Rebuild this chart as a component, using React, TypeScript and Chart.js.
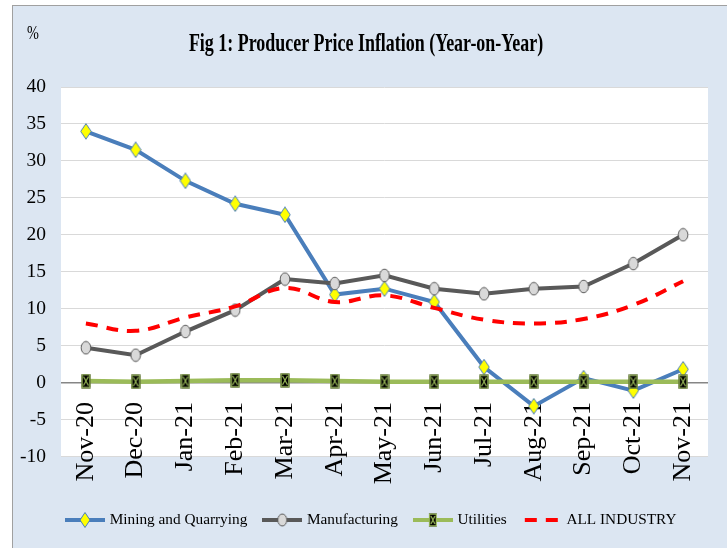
import React, { useEffect, useRef } from 'react';
import { Chart, registerables } from 'chart.js';

Chart.register(...registerables);

// ---------------- data ----------------
const categories = ['Nov-20', 'Dec-20', 'Jan-21', 'Feb-21', 'Mar-21', 'Apr-21', 'May-21', 'Jun-21', 'Jul-21', 'Aug-21', 'Sep-21', 'Oct-21', 'Nov-21'];
const mining = [34.0, 31.5, 27.3, 24.2, 22.7, 11.9, 12.7, 10.9, 2.1, -3.2, 0.6, -1.1, 1.8];
const manufacturing = [4.7, 3.7, 6.9, 9.8, 14.0, 13.4, 14.5, 12.7, 12.0, 12.7, 13.0, 16.1, 20.0];
const utilities = [0.2, 0.1, 0.2, 0.3, 0.3, 0.2, 0.1, 0.1, 0.1, 0.1, 0.1, 0.1, 0.1];
const allIndustry = [8.0, 7.0, 8.8, 10.3, 12.8, 10.9, 11.8, 10.1, 8.5, 8.0, 8.6, 10.5, 13.7];
const seriesNames = ['Mining and Quarrying', 'Manufacturing', 'Utilities', 'ALL INDUSTRY'];
const yMin = -10;
const yMax = 40;
const yStep = 5;
const titleText = 'Fig 1: Producer Price Inflation (Year-on-Year)';
const unitText = '%';

// ---------------- styles ----------------
const SERIF = "'Liberation Serif', 'Times New Roman', serif";
const BLUE = '#4a7ebb';
const GREY = '#595959';
const GREEN = '#9bbb59';
const RED = '#ff0000';
const X_FONT = 26;

function makeCanvas(w: number, h: number, draw: (c: CanvasRenderingContext2D) => void) {
  const c = document.createElement('canvas');
  c.width = w;
  c.height = h;
  const ctx = c.getContext('2d')!;
  draw(ctx);
  return c;
}

function drawDiamond(ctx: CanvasRenderingContext2D, cx: number, cy: number, w: number, h: number) {
  ctx.beginPath();
  ctx.moveTo(cx, cy - h / 2);
  ctx.lineTo(cx + w / 2, cy);
  ctx.lineTo(cx, cy + h / 2);
  ctx.lineTo(cx - w / 2, cy);
  ctx.closePath();
  ctx.fillStyle = '#ffff00';
  ctx.fill();
  ctx.strokeStyle = BLUE;
  ctx.lineWidth = 1;
  ctx.stroke();
}

function drawCircle(ctx: CanvasRenderingContext2D, cx: number, cy: number, rx: number, ry: number) {
  ctx.beginPath();
  ctx.ellipse(cx, cy, rx, ry, 0, 0, Math.PI * 2);
  ctx.fillStyle = '#d9d9d9';
  ctx.fill();
  ctx.strokeStyle = GREY;
  ctx.lineWidth = 1;
  ctx.stroke();
}

function drawUtil(ctx: CanvasRenderingContext2D, cx: number, cy: number, w: number, h: number) {
  const x = cx - w / 2;
  const y = cy - h / 2;
  ctx.fillStyle = '#000';
  ctx.fillRect(x, y, w, h);
  ctx.strokeStyle = GREEN;
  ctx.lineWidth = 1.2;
  ctx.strokeRect(x + 0.6, y + 0.6, w - 1.2, h - 1.2);
  ctx.beginPath();
  ctx.moveTo(x + 2, y + 2.5);
  ctx.lineTo(x + w - 2, y + h - 2.5);
  ctx.moveTo(x + w - 2, y + 2.5);
  ctx.lineTo(x + 2, y + h - 2.5);
  ctx.stroke();
}

function legendIcon(kind: number) {
  return makeCanvas(40, 18, (ctx) => {
    if (kind === 3) {
      ctx.fillStyle = RED;
      ctx.fillRect(3, 7, 12, 4);
      ctx.fillRect(24, 7, 12, 4);
      return;
    }
    const col = kind === 0 ? BLUE : kind === 1 ? GREY : GREEN;
    ctx.fillStyle = col;
    ctx.fillRect(0, 7, 40, 4);
    if (kind === 0) drawDiamond(ctx, 20, 9, 10, 15);
    if (kind === 1) drawCircle(ctx, 20, 9, 4.5, 6);
    if (kind === 2) drawUtil(ctx, 20, 9, 8, 13);
  });
}

const decorPlugin = {
  id: 'decor',
  afterLayout(chart: any) {
    // move the legend row to start under the plot, as in the reference
    const lg = chart.legend;
    if (lg) {
      lg.left += 50;
      lg.right += 50;
    }
  },
  beforeDraw(chart: any) {
    const { ctx, chartArea: a } = chart;
    ctx.save();
    ctx.fillStyle = '#ffffff';
    ctx.fillRect(a.left, a.top, a.right - a.left, a.bottom - a.top);
    ctx.restore();
  },
  afterDraw(chart: any) {
    const ctx = chart.ctx as CanvasRenderingContext2D;
    ctx.save();
    ctx.fillStyle = '#000';
    ctx.textBaseline = 'alphabetic';
    ctx.textAlign = 'center';
    ctx.font = `bold 26px ${SERIF}`;
    const sx = 0.69;
    ctx.scale(sx, 1);
    ctx.fillText(titleText, 366 / sx, 51);
    ctx.restore();

    ctx.save();
    ctx.fillStyle = '#000';
    ctx.textBaseline = 'alphabetic';
    ctx.textAlign = 'left';
    ctx.font = `19px ${SERIF}`;
    const sx2 = 0.75;
    ctx.scale(sx2, 1);
    ctx.fillText(unitText, 27 / sx2, 39);
    ctx.restore();
  },
};

export default function App() {
  const ref = useRef<HTMLCanvasElement>(null);

  useEffect(() => {
    const diamond = makeCanvas(12, 17, (c) => drawDiamond(c, 6, 8.5, 10.5, 15.5));
    const circle = makeCanvas(12, 15, (c) => drawCircle(c, 6, 7.5, 4.8, 6.3));
    const util = makeCanvas(10, 15, (c) => drawUtil(c, 5, 7.5, 9, 14));
    const icons = [0, 1, 2, 3].map(legendIcon);

    const chart = new Chart(ref.current!, {
      type: 'line',
      data: {
        labels: categories,
        datasets: [
          {
            label: seriesNames[0],
            data: mining,
            borderColor: BLUE,
            backgroundColor: BLUE,
            borderWidth: 4,
            pointStyle: diamond as any,
            pointRadius: 6,
            pointHoverRadius: 6,
            tension: 0,
            order: 4,
          },
          {
            label: seriesNames[1],
            data: manufacturing,
            borderColor: GREY,
            backgroundColor: GREY,
            borderWidth: 4,
            pointStyle: circle as any,
            pointRadius: 6,
            pointHoverRadius: 6,
            tension: 0,
            order: 3,
          },
          {
            label: seriesNames[2],
            data: utilities,
            borderColor: GREEN,
            backgroundColor: GREEN,
            borderWidth: 4.5,
            pointStyle: util as any,
            pointRadius: 6,
            pointHoverRadius: 6,
            tension: 0,
            order: 2,
          },
          {
            label: seriesNames[3],
            data: allIndustry,
            borderColor: RED,
            backgroundColor: RED,
            borderWidth: 4,
            borderDash: [12, 9],
            borderCapStyle: 'butt',
            pointRadius: 0,
            pointHoverRadius: 0,
            tension: 0.4,
            order: 1,
          },
        ],
      },
      options: {
        responsive: false,
        animation: false,
        devicePixelRatio: 1,
        events: [],
        layout: { padding: { left: 0, right: 19, top: 87, bottom: 10.35 } },
        plugins: {
          title: { display: false },
          tooltip: { enabled: false },
          legend: {
            position: 'bottom',
            align: 'start',
            labels: {
              usePointStyle: true,
              pointStyleWidth: 34,
              padding: 18,
              color: '#000',
              font: { family: SERIF, size: 15.3 },
              generateLabels: () =>
                seriesNames.map((name, i) => ({
                  text: name,
                  pointStyle: icons[i] as any,
                  datasetIndex: i,
                  hidden: false,
                  fillStyle: 'rgba(0,0,0,0)',
                  strokeStyle: 'rgba(0,0,0,0)',
                  lineWidth: 0,
                  fontColor: '#000',
                })),
            },
          },
        },
        scales: {
          x: {
            type: 'category',
            offset: true,
            grid: { display: false },
            border: { display: false },
            ticks: {
              autoSkip: false,
              minRotation: 90,
              maxRotation: 90,
              mirror: true,
              padding: 54.4,
              labelOffset: X_FONT * 1.2,
              color: '#000',
              font: { family: SERIF, size: X_FONT },
            },
            afterFit: (s: any) => {
              s.height = 37.95;
              s.paddingLeft = 0;
              s.paddingRight = 0;
            },
          },
          y: {
            type: 'linear',
            min: yMin,
            max: yMax,
            border: { display: false },
            grid: {
              drawTicks: false,
              color: (c: any) => (c.tick && c.tick.value === 0 ? '#868686' : '#d9d9d9'),
              lineWidth: (c: any) => (c.tick && c.tick.value === 0 ? 1.5 : 1),
            },
            ticks: {
              stepSize: yStep,
              padding: 15,
              color: '#000',
              font: { family: SERIF, size: 19.5 },
            },
            afterFit: (s: any) => {
              s.width = 61;
              s.paddingTop = 0;
              s.paddingBottom = 0;
            },
          },
        },
      },
      plugins: [decorPlugin],
    } as any);

    return () => chart.destroy();
  }, []);

  return (
    <div style={{ position: 'absolute', left: 0, top: 0, width: 727, height: 548, background: '#ffffff', overflow: 'hidden' }}>
      <div
        style={{
          position: 'absolute',
          left: 12,
          top: 5,
          right: 0,
          bottom: 0,
          background: '#dce6f2',
          borderLeft: '1px solid #a0a0a0',
          borderTop: '1px solid #a0a0a0',
        }}
      />
      <canvas ref={ref} width={727} height={548} style={{ position: 'absolute', left: 0, top: 0, width: 727, height: 548, display: 'block' }} />
    </div>
  );
}
